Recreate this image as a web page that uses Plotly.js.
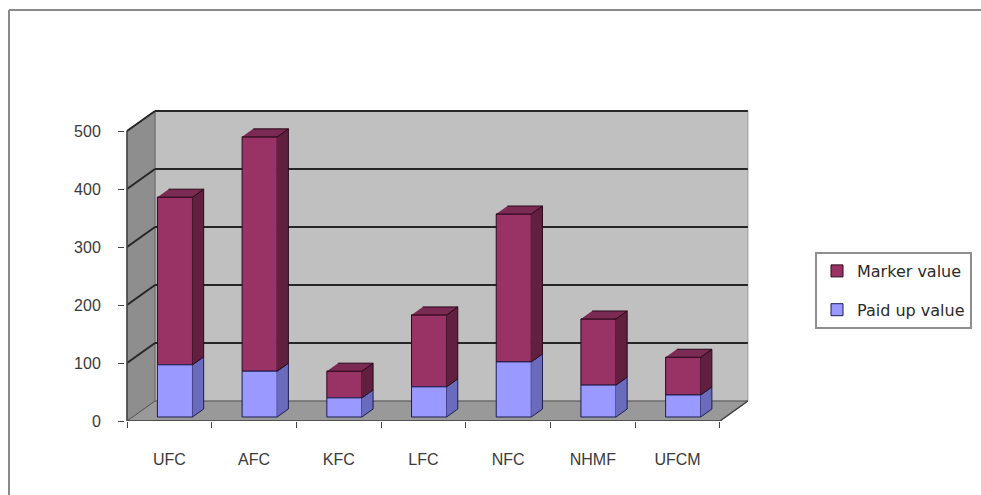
<!DOCTYPE html>
<html>
<head>
<meta charset="utf-8">
<script src="https://cdn.plot.ly/plotly-3.0.1.min.js"></script>
<style>
  html, body { margin: 0; padding: 0; background: #ffffff; }
  #chart { width: 981px; height: 495px; }
</style>
</head>
<body>
<div id="chart"></div>
<script>
// ---- data ----
const categories  = ['UFC', 'AFC', 'KFC', 'LFC', 'NFC', 'NHMF', 'UFCM'];
const paidUpValue = [90, 79, 33, 52, 95, 55, 38];
const markerValue = [289, 404, 46, 124, 255, 114, 65];
const yTickValues = [0, 100, 200, 300, 400, 500];

// ---- frame geometry (px) ----
const W = 981, H = 495;
const L = 125, R = 752, T = 108, B = 421;
const pxPerCat = 84.7, pxPerVal = 0.58;
const xMin = -0.5 - 2 / pxPerCat;
const xMax = xMin + (R - L) / pxPerCat;
const yMax = (B - T) / pxPerVal;
const yTop = yTickValues[yTickValues.length - 1];
const nCat = categories.length;

// depth of the box: 28px to the right and 20px up
const DX = 28 / pxPerCat, DY = 20 / pxPerVal;
const D0 = 0.2, D1 = 0.6;   // front / back depth of every column
const HW = 0.207;           // half column width, category units

// oblique projection of (category, value, depth) into axis units
const P = (c, v, d) => [c + DX * d, v + DY * d];

function facePolys(build) {
  const xs = [], ys = [];
  categories.forEach((_, i) => {
    build(i).forEach(([x, y]) => { xs.push(x); ys.push(y); });
    xs.push(null); ys.push(null);
  });
  return { xs, ys };
}

const paidSide = facePolys(i => {
  const c = i + HW, v0 = 0, v1 = paidUpValue[i];
  return [P(c, v0, D0), P(c, v0, D1), P(c, v1, D1), P(c, v1, D0)];
});
const markerSide = facePolys(i => {
  const c = i + HW, v0 = paidUpValue[i], v1 = paidUpValue[i] + markerValue[i];
  return [P(c, v0, D0), P(c, v0, D1), P(c, v1, D1), P(c, v1, D0)];
});
const markerTop = facePolys(i => {
  const v = paidUpValue[i] + markerValue[i];
  return [P(i - HW, v, D0), P(i + HW, v, D0), P(i + HW, v, D1), P(i - HW, v, D1)];
});

const MAROON = '#993366', MAROON_SIDE = '#61203f', MAROON_TOP = '#7a2a53';
const BLUE = '#9999ff', BLUE_SIDE = '#6b6bbd';
const EDGE_M = '#2a0a1c', EDGE_B = '#1c1c50';

function faceTrace(poly, fill, edge) {
  return {
    type: 'scatter', mode: 'lines', xaxis: 'x2', yaxis: 'y',
    x: poly.xs, y: poly.ys, fill: 'toself', fillcolor: fill,
    line: { color: edge, width: 1 }, showlegend: false, hoverinfo: 'skip'
  };
}

const traces = [
  {
    type: 'bar', name: 'Marker value', legendgroup: 'm',
    x: categories, y: markerValue,
    base: paidUpValue.map(p => p + DY * D0),
    width: 2 * HW, offset: DX * D0 - HW,
    marker: { color: MAROON, line: { color: EDGE_M, width: 1 } }
  },
  {
    type: 'bar', name: 'Paid up value', legendgroup: 'p',
    x: categories, y: paidUpValue,
    base: paidUpValue.map(() => DY * D0),
    width: 2 * HW, offset: DX * D0 - HW,
    marker: { color: BLUE, line: { color: EDGE_B, width: 1 } }
  },
  faceTrace(paidSide, BLUE_SIDE, EDGE_B),
  faceTrace(markerSide, MAROON_SIDE, EDGE_M),
  faceTrace(markerTop, MAROON_TOP, EDGE_M)
];

// ---- box walls, floor and grid ----
const xa = -0.5, xb = nCat - 0.5;
const pt = ([x, y]) => x + ',' + y;
const path = pts => 'M' + pts.map(pt).join('L') + 'Z';
const shapes = [];
const dataShape = (o) => Object.assign({ xref: 'x2', yref: 'y', layer: 'below' }, o);

// back wall
shapes.push(dataShape({
  type: 'path',
  path: path([P(xa, 0, 1), P(xb, 0, 1), P(xb, yTop, 1), P(xa, yTop, 1)]),
  fillcolor: '#c0c0c0', line: { color: '#9a9a9a', width: 1 }
}));
// side wall
shapes.push(dataShape({
  type: 'path',
  path: path([P(xa, 0, 0), P(xa, 0, 1), P(xa, yTop, 1), P(xa, yTop, 0)]),
  fillcolor: '#8e8e8e', line: { color: '#666', width: 1 }
}));
// floor
shapes.push(dataShape({
  type: 'path',
  path: path([P(xa, 0, 0), P(xb, 0, 0), P(xb, 0, 1), P(xa, 0, 1)]),
  fillcolor: '#999999', line: { color: '#555', width: 1 }
}));
// grid lines on back and side walls
yTickValues.filter(v => v > 0).forEach(v => {
  const a = P(xa, v, 0), b = P(xa, v, 1), c = P(xb, v, 1);
  shapes.push(dataShape({ type: 'line', x0: a[0], y0: a[1], x1: b[0], y1: b[1],
    line: { color: '#262626', width: 2 } }));
  shapes.push(dataShape({ type: 'line', x0: b[0], y0: b[1], x1: c[0], y1: c[1],
    line: { color: '#262626', width: 2 } }));
});
// front axis lines
shapes.push(dataShape({ type: 'line', x0: xa, y0: 0, x1: xa, y1: yTop,
  line: { color: '#444', width: 1.5 }, layer: 'above' }));
shapes.push(dataShape({ type: 'line', x0: xa, y0: 0, x1: xb, y1: 0,
  line: { color: '#444', width: 1.5 }, layer: 'above' }));
// floor right edge
{
  const a = P(xb, 0, 0), b = P(xb, 0, 1);
  shapes.push(dataShape({ type: 'line', x0: a[0], y0: a[1], x1: b[0], y1: b[1],
    line: { color: '#444', width: 1.5 }, layer: 'above' }));
}

// outer chart-area frame (top and left edges)
const px2pX = px => (px - L) / (R - L);
const px2pY = py => (B - py) / (B - T);
shapes.push({ type: 'line', xref: 'paper', yref: 'paper',
  x0: px2pX(9), y0: px2pY(10), x1: px2pX(W + 5), y1: px2pY(10),
  line: { color: '#8a8a8a', width: 2 } });
shapes.push({ type: 'line', xref: 'paper', yref: 'paper',
  x0: px2pX(9), y0: px2pY(10), x1: px2pX(9), y1: px2pY(H + 5),
  line: { color: '#8a8a8a', width: 2 } });

const FONT = 'Liberation Sans, Arial, sans-serif';
const LEGEND_FONT = 'DejaVu Sans, Liberation Sans, sans-serif';

const layout = {
  width: W, height: H,
  margin: { l: L, r: W - R, t: T, b: H - B, pad: 0, autoexpand: false },
  paper_bgcolor: '#ffffff',
  plot_bgcolor: 'rgba(0,0,0,0)',
  barmode: 'overlay',
  showlegend: true,
  font: { family: FONT, size: 16, color: '#3a3a3a' },
  xaxis: {
    type: 'category', range: [xMin, xMax], tickson: 'boundaries',
    ticks: 'outside', ticklen: 6, tickwidth: 1, tickcolor: '#444',
    showgrid: false, zeroline: false, showline: false,
    ticklabelstandoff: 27,
    tickfont: { family: FONT, size: 16, color: '#3a3a3a' },
    fixedrange: true
  },
  xaxis2: {
    type: 'linear', overlaying: 'x', range: [xMin, xMax], visible: false,
    fixedrange: true
  },
  yaxis: {
    range: [0, yMax], tickmode: 'array', tickvals: yTickValues,
    ticks: 'outside', ticklen: 6, tickwidth: 1, tickcolor: '#444',
    showgrid: false, zeroline: false, showline: false,
    ticklabelstandoff: 14,
    tickfont: { family: FONT, size: 16, color: '#3a3a3a' },
    fixedrange: true
  },
  legend: {
    x: px2pX(815), y: px2pY(252), xanchor: 'left', yanchor: 'top',
    bgcolor: '#ffffff', bordercolor: '#8f8f8f', borderwidth: 2,
    font: { family: LEGEND_FONT, size: 16, color: '#2a2a2a' },
    traceorder: 'grouped', tracegroupgap: 15
  },
  shapes: shapes
};

Plotly.newPlot('chart', traces, layout, { displayModeBar: false, staticPlot: true });
</script>
</body>
</html>
